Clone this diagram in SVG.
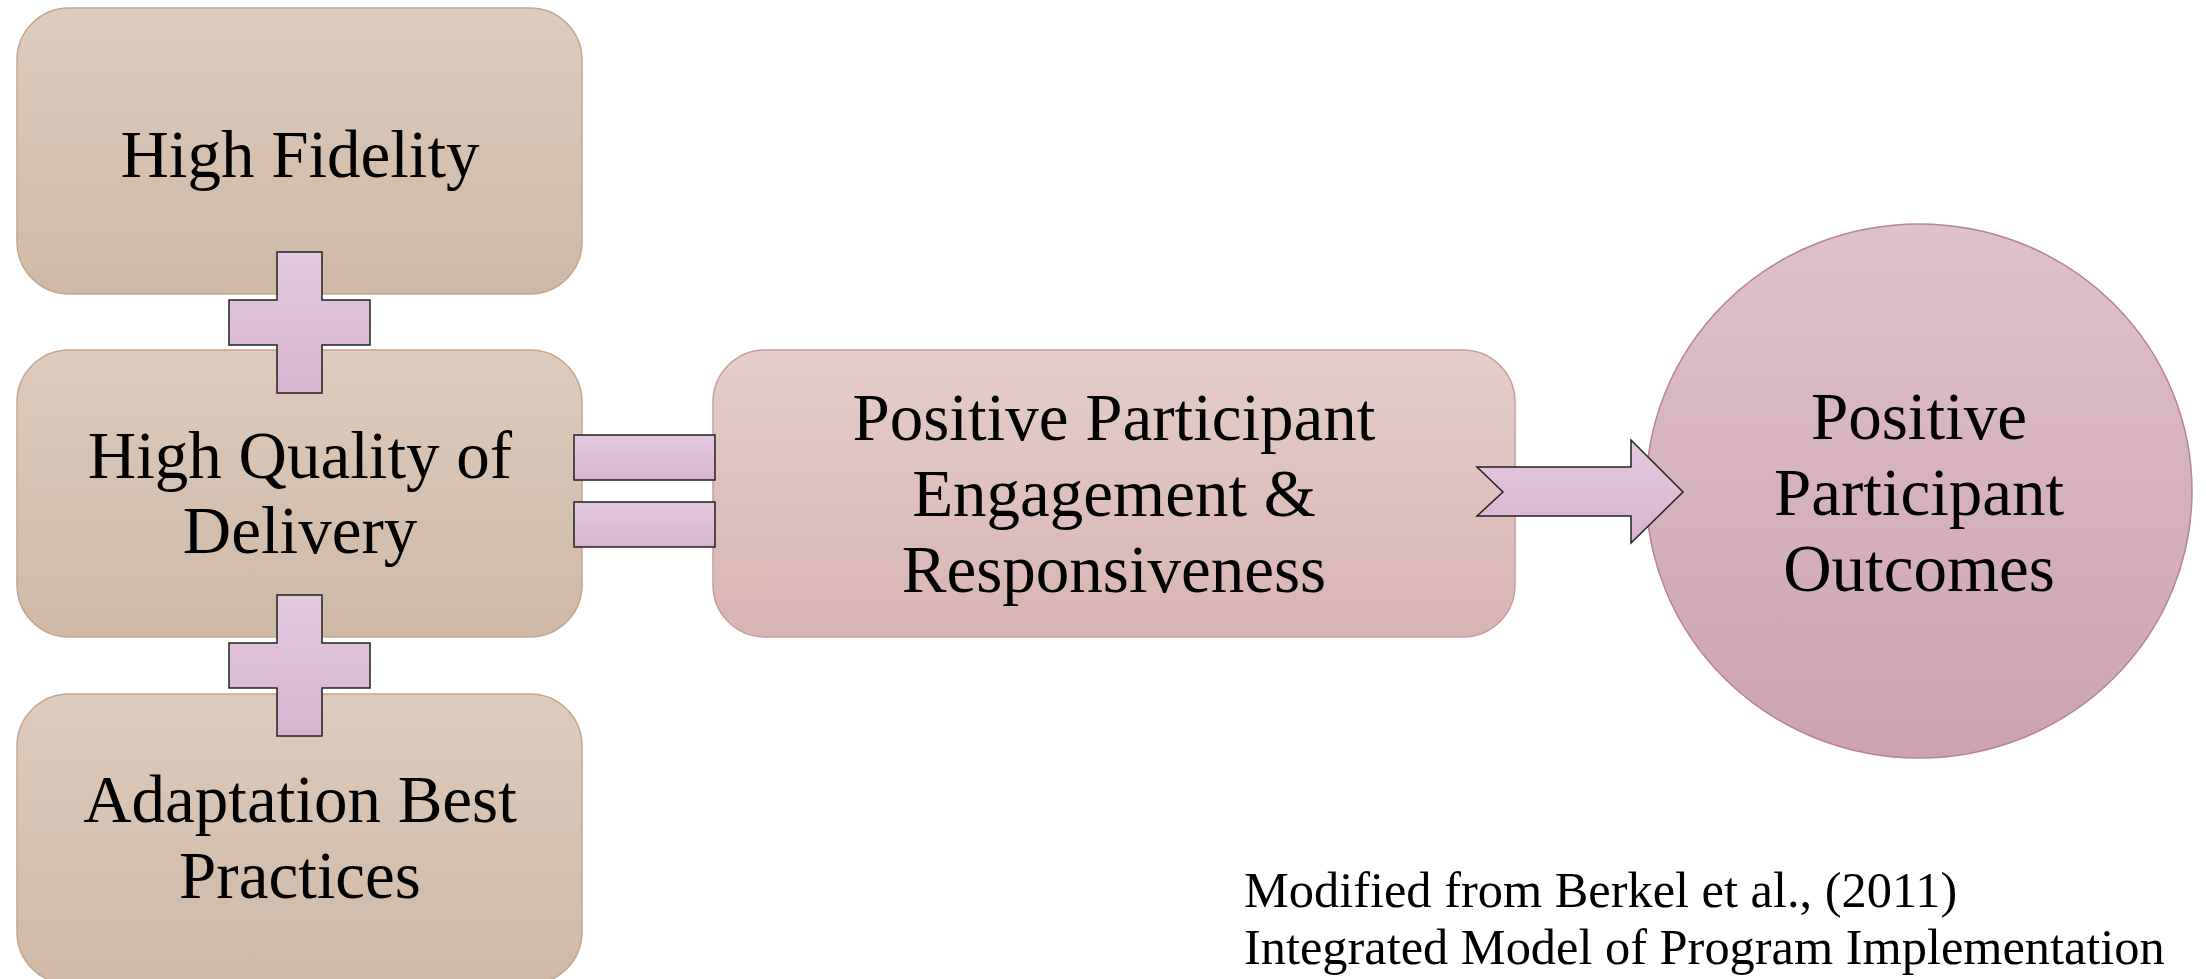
<svg xmlns="http://www.w3.org/2000/svg" width="2206" height="979" viewBox="0 0 2206 979">
<defs>
<linearGradient id="gTan" x1="0" y1="0" x2="0" y2="1"><stop offset="0" stop-color="#ddcbbd"/><stop offset="1" stop-color="#cfb8a6"/></linearGradient>
<linearGradient id="gRose" x1="0" y1="0" x2="0" y2="1"><stop offset="0" stop-color="#e4cdca"/><stop offset="1" stop-color="#d8b4b3"/></linearGradient>
<linearGradient id="gCirc" x1="0" y1="0" x2="0" y2="1"><stop offset="0" stop-color="#dfc1ca"/><stop offset="1" stop-color="#cda3b2"/></linearGradient>
<linearGradient id="gSym" x1="0" y1="0" x2="0" y2="1"><stop offset="0" stop-color="#e3c9df"/><stop offset="1" stop-color="#d8b3cf"/></linearGradient>
</defs>
<style>
.tan{fill:url(#gTan);stroke:#c3a68f;stroke-width:1.5}
.rose{fill:url(#gRose);stroke:#c99c9d;stroke-width:1.5}
.circ{fill:url(#gCirc);stroke:#b88298;stroke-width:1.5}
.sym{fill:url(#gSym);stroke:#222;stroke-width:1.5}
.t{font-family:"Liberation Serif","Times New Roman",serif;font-size:67px;fill:#000;text-anchor:middle}
.f{font-family:"Liberation Serif","Times New Roman",serif;font-size:50.4px;fill:#000}
</style>
<rect width="2206" height="979" fill="#fff"/>
<g id="node-fidelity">
<rect class="tan" x="17" y="8" width="565" height="286" rx="52"/>
<text class="t" x="300" y="177">High Fidelity</text>
</g>
<g id="node-quality">
<rect class="tan" x="17" y="350" width="565" height="287" rx="52"/>
<text class="t" x="300" y="478">High Quality of</text>
<text class="t" x="300" y="553">Delivery</text>
</g>
<g id="node-adaptation">
<rect class="tan" x="17" y="694" width="565" height="290" rx="52"/>
<text class="t" x="300" y="822">Adaptation Best</text>
<text class="t" x="300" y="898">Practices</text>
</g>
<g id="node-engagement">
<rect class="rose" x="713" y="350" width="802" height="287" rx="52"/>
<text class="t" x="1114" y="440">Positive Participant</text>
<text class="t" x="1114" y="516">Engagement &amp;</text>
<text class="t" x="1114" y="592">Responsiveness</text>
</g>
<g id="node-outcomes">
<ellipse class="circ" cx="1919" cy="491" rx="273" ry="267"/>
<text class="t" x="1919" y="439">Positive</text>
<text class="t" x="1919" y="515">Participant</text>
<text class="t" x="1919" y="591">Outcomes</text>
</g>
<g id="connectors">
<path class="sym" d="M277 252H322V300H370V345H322V393H277V345H229V300H277Z"/>
<path class="sym" d="M277 595H322V643H370V688H322V736H277V688H229V643H277Z"/>
<rect class="sym" x="574" y="435" width="141" height="45"/>
<rect class="sym" x="574" y="502" width="141" height="45"/>
<path class="sym" d="M1477 467H1631V440L1683 492L1631 543V516H1477L1503 492Z"/>
</g>
<g id="note">
<text class="f" x="1244" y="907">Modified from Berkel et al., (2011)</text>
<text class="f" x="1244" y="964">Integrated Model of Program Implementation</text>
</g>
</svg>
